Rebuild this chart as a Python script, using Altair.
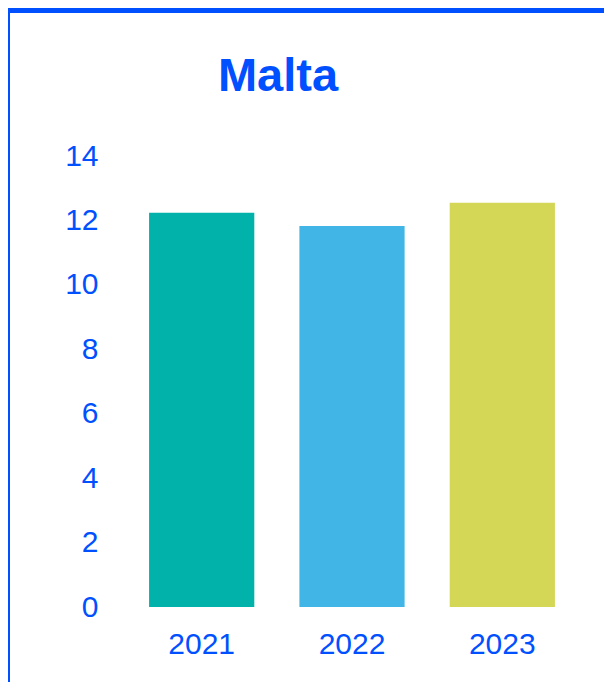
import altair as alt
import pandas as pd

years = ["2021", "2022", "2023"]
values = [12.24, 11.83, 12.55]
bar_colors = ["#00B2A9", "#41B6E6", "#D3D755"]
y_ticks = [0, 2, 4, 6, 8, 10, 12, 14]
title_text = "Malta"

blue = "#0050FF"
font = "Liberation Sans"

df = pd.DataFrame({"year": years, "value": values})

bars = alt.Chart(df).mark_bar().encode(
    x=alt.X(
        "year:N",
        sort=years,
        scale=alt.Scale(paddingInner=0.3, paddingOuter=0.26),
        axis=alt.Axis(
            title=None, labelAngle=0, ticks=False, tickSize=0, domain=False,
            labelColor=blue, labelFontSize=30, labelFont=font, labelPadding=22,
        ),
    ),
    y=alt.Y(
        "value:Q",
        scale=alt.Scale(domain=[0, 14], nice=False, zero=True),
        axis=alt.Axis(
            title=None, values=y_ticks, ticks=False, tickSize=0, domain=False, grid=False,
            labelColor=blue, labelFontSize=30, labelFont=font, labelPadding=12,
        ),
    ),
    color=alt.Color("year:N", scale=alt.Scale(domain=years, range=bar_colors), legend=None),
)

frame = pd.DataFrame({"k": [0]})
top_rule = alt.Chart(frame).mark_rule(color=blue, strokeWidth=5).encode(
    x=alt.value(-102), x2=alt.value(494), y=alt.value(-145.5)
)
left_rule = alt.Chart(frame).mark_rule(color=blue, strokeWidth=2).encode(
    x=alt.value(-101), y=alt.value(-148), y2=alt.value(526)
)

chart = alt.layer(bars, top_rule, left_rule).properties(
    width=484,
    height=451,
    title=alt.TitleParams(
        title_text, fontSize=47, font=font, fontWeight="bold", color=blue,
        anchor="middle", frame="group", dx=-74, dy=94, offset=0,
    ),
    padding={"left": 102, "top": 148, "right": 10, "bottom": 75},
    autosize=alt.AutoSizeParams(type="none"),
).configure_view(stroke=None)

chart.save("out.html", embed_options={"renderer": "svg", "actions": False})
